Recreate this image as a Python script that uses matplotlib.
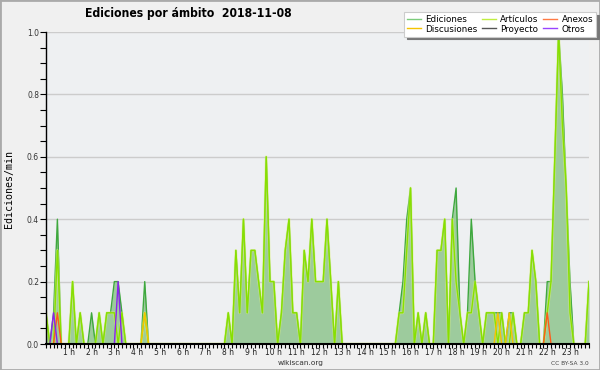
import numpy as np
import matplotlib
matplotlib.use("Agg")
import matplotlib.pyplot as plt
from matplotlib.lines import Line2D
from matplotlib.patches import Rectangle

# 10-minute bins, values in edits per minute
ediciones = [
    0.1, 0, 0.1, 0.4, 0, 0, 0, 0.2, 0, 0.1, 0, 0,
    0.1, 0, 0.1, 0, 0.1, 0.1, 0.2, 0.2, 0.1, 0, 0, 0,
    0, 0, 0.2, 0, 0, 0, 0, 0, 0, 0, 0, 0,
    0, 0, 0, 0, 0, 0, 0, 0, 0, 0, 0, 0,
    0.1, 0, 0.3, 0.1, 0.4, 0.1, 0.3, 0.3, 0.2, 0.1, 0.6, 0.2,
    0.2, 0, 0.1, 0.3, 0.4, 0.1, 0.1, 0, 0.3, 0.2, 0.4, 0.2,
    0.2, 0.2, 0.4, 0.2, 0, 0.2, 0, 0, 0, 0, 0, 0,
    0, 0, 0, 0, 0, 0, 0, 0, 0, 0.1, 0.2, 0.4,
    0.5, 0, 0.1, 0, 0.1, 0, 0, 0.3, 0.3, 0.4, 0, 0.4,
    0.5, 0.1, 0, 0.1, 0.4, 0.2, 0.1, 0, 0.1, 0.1, 0.1, 0.1,
    0.1, 0, 0.1, 0.1, 0, 0, 0.1, 0.1, 0.3, 0.2, 0, 0,
    0.2, 0.2, 0.6, 1.0, 0.8, 0.5, 0.2, 0, 0, 0, 0, 0.2,
]
articulos = [
    0.1, 0, 0, 0.3, 0, 0, 0, 0.2, 0, 0.1, 0, 0,
    0, 0, 0.1, 0, 0.1, 0.1, 0.1, 0, 0.1, 0, 0, 0,
    0, 0, 0.1, 0, 0, 0, 0, 0, 0, 0, 0, 0,
    0, 0, 0, 0, 0, 0, 0, 0, 0, 0, 0, 0,
    0.1, 0, 0.3, 0.1, 0.4, 0.1, 0.3, 0.3, 0.2, 0.1, 0.6, 0.2,
    0.2, 0, 0.1, 0.3, 0.4, 0.1, 0.1, 0, 0.3, 0.2, 0.4, 0.2,
    0.2, 0.2, 0.4, 0.2, 0, 0.2, 0, 0, 0, 0, 0, 0,
    0, 0, 0, 0, 0, 0, 0, 0, 0, 0.1, 0.1, 0.3,
    0.5, 0, 0.1, 0, 0.1, 0, 0, 0.3, 0.3, 0.4, 0, 0.4,
    0.2, 0.1, 0, 0.1, 0.1, 0.2, 0.1, 0, 0.1, 0.1, 0.1, 0,
    0.1, 0, 0, 0.1, 0, 0, 0.1, 0.1, 0.3, 0.2, 0, 0,
    0.1, 0.2, 0.6, 1.0, 0.7, 0.5, 0.1, 0, 0, 0, 0, 0.2,
]
discusiones = [0.0] * 144
discusiones_bins = [26, 119, 122]
discusiones_vals = [0.1, 0.1, 0.1]
anexos = [0.0] * 144
anexos_bins = [3, 132]
anexos_vals = [0.1, 0.1]
otros = [0.0] * 144
otros_bins = [2, 19]
otros_vals = [0.1, 0.2]
proyecto = [0.0] * 144
for b, v in zip(discusiones_bins, discusiones_vals):
    discusiones[b] = v
for b, v in zip(anexos_bins, anexos_vals):
    anexos[b] = v
for b, v in zip(otros_bins, otros_vals):
    otros[b] = v

hour_labels = [f"{h} h" for h in range(1, 24)]
title = "Ediciones por ámbito  2018-11-08"

plt.rcParams["font.family"] = ["DejaVu Sans"]

W, H = 600, 370
fig = plt.figure(figsize=(6, 3.7), dpi=100, facecolor="#f0f0f0")
ax = fig.add_axes([46 / W, 26 / H, 543 / W, 312 / H])
ax.set_facecolor("#eef0f2")

t = np.arange(len(ediciones)) / 6.0

ax.fill_between(t, ediciones, 0, color="#9dcb9d", lw=0, zorder=1)
ax.plot(t, ediciones, color="#3ea83e", lw=1.0, zorder=2)
ax.plot(t, articulos, color="#dcf27a", lw=2.0, alpha=0.55, zorder=3)
ax.plot(t, articulos, color="#88e000", lw=1.0, zorder=3.1)
ax.plot(t, proyecto, color="#555555", lw=1.0, zorder=3.2)
ax.plot(t, discusiones, color="#f5c400", lw=1.0, zorder=3.3)
ax.plot(t, anexos, color="#ff5a1a", lw=1.0, zorder=3.4)
ax.plot(t, otros, color="#8a22ee", lw=1.0, zorder=3.5)

ax.set_xlim(0, t[-1])
ax.set_ylim(0, 1.0)

ax.set_xticks(np.arange(1, 24))
ax.set_xticklabels(hour_labels)
ax.set_xticks(t, minor=True)
ax.set_yticks(np.arange(0, 1.01, 0.2))
ax.set_yticklabels([f"{v:.1f}" for v in np.arange(0, 1.01, 0.2)])
ax.set_yticks(np.arange(0, 1.001, 0.05), minor=True)

ax.tick_params(axis="x", which="both", length=3.0, width=0.8, pad=0,
               labelsize=5.5, direction="out", color="black", labelcolor="#222222")
ax.tick_params(axis="y", which="both", length=4, width=0.8, pad=1,
               labelsize=5.5, direction="out", color="black", labelcolor="#333333")

ax.set_axisbelow(True)
ax.yaxis.grid(True, color="#cccccc", lw=1)
for s in ["top", "right"]:
    ax.spines[s].set_visible(False)
ax.spines["left"].set_linewidth(1.0)
ax.spines["bottom"].set_linewidth(1.5)
for s in ["left", "bottom"]:
    ax.spines[s].set_zorder(10)

fig.text(85 / W, 1 - 13.5 / H, title, fontsize=8.7, fontweight="bold",
         ha="left", va="center", fontstretch="condensed")
fig.text(9 / W, 1 - 189 / H, "Ediciones/min", rotation=90, fontsize=7.2,
         family="DejaVu Sans Mono", ha="center", va="center")
fig.text(301 / W, 1 - 363 / H, "wikiscan.org", fontsize=5.3,
         ha="center", va="center", color="#333333")
fig.text(589 / W, 1 - 363.5 / H, "CC BY-SA 3.0", fontsize=4.2,
         ha="right", va="center", color="#444444")

labels = ["Ediciones", "Discusiones", "Artículos", "Proyecto", "Anexos", "Otros"]
colors = ["#7ccc7c", "#f5c400", "#c0ee40", "#555555", "#ff7a44", "#9944ff"]
handles = [Line2D([], [], color=c, lw=1.0) for c in colors]
leg = fig.legend(handles, labels, ncol=3, loc="upper left",
                 bbox_to_anchor=(404 / W, 1 - 12 / H), fontsize=6.3,
                 handlelength=1.6, columnspacing=0.5, handletextpad=0.5,
                 labelspacing=0.05, borderpad=0.35, fancybox=False,
                 shadow={"color": "#777777", "alpha": 1}, framealpha=1,
                 edgecolor="#cccccc", borderaxespad=0)
leg.get_frame().set_linewidth(0.8)

fig.patches.append(Rectangle((0, 0), 1, 1, transform=fig.transFigure,
                             fill=False, ec="#aaaaaa", lw=2))

fig.savefig("out.png", dpi=100, facecolor=fig.get_facecolor())
